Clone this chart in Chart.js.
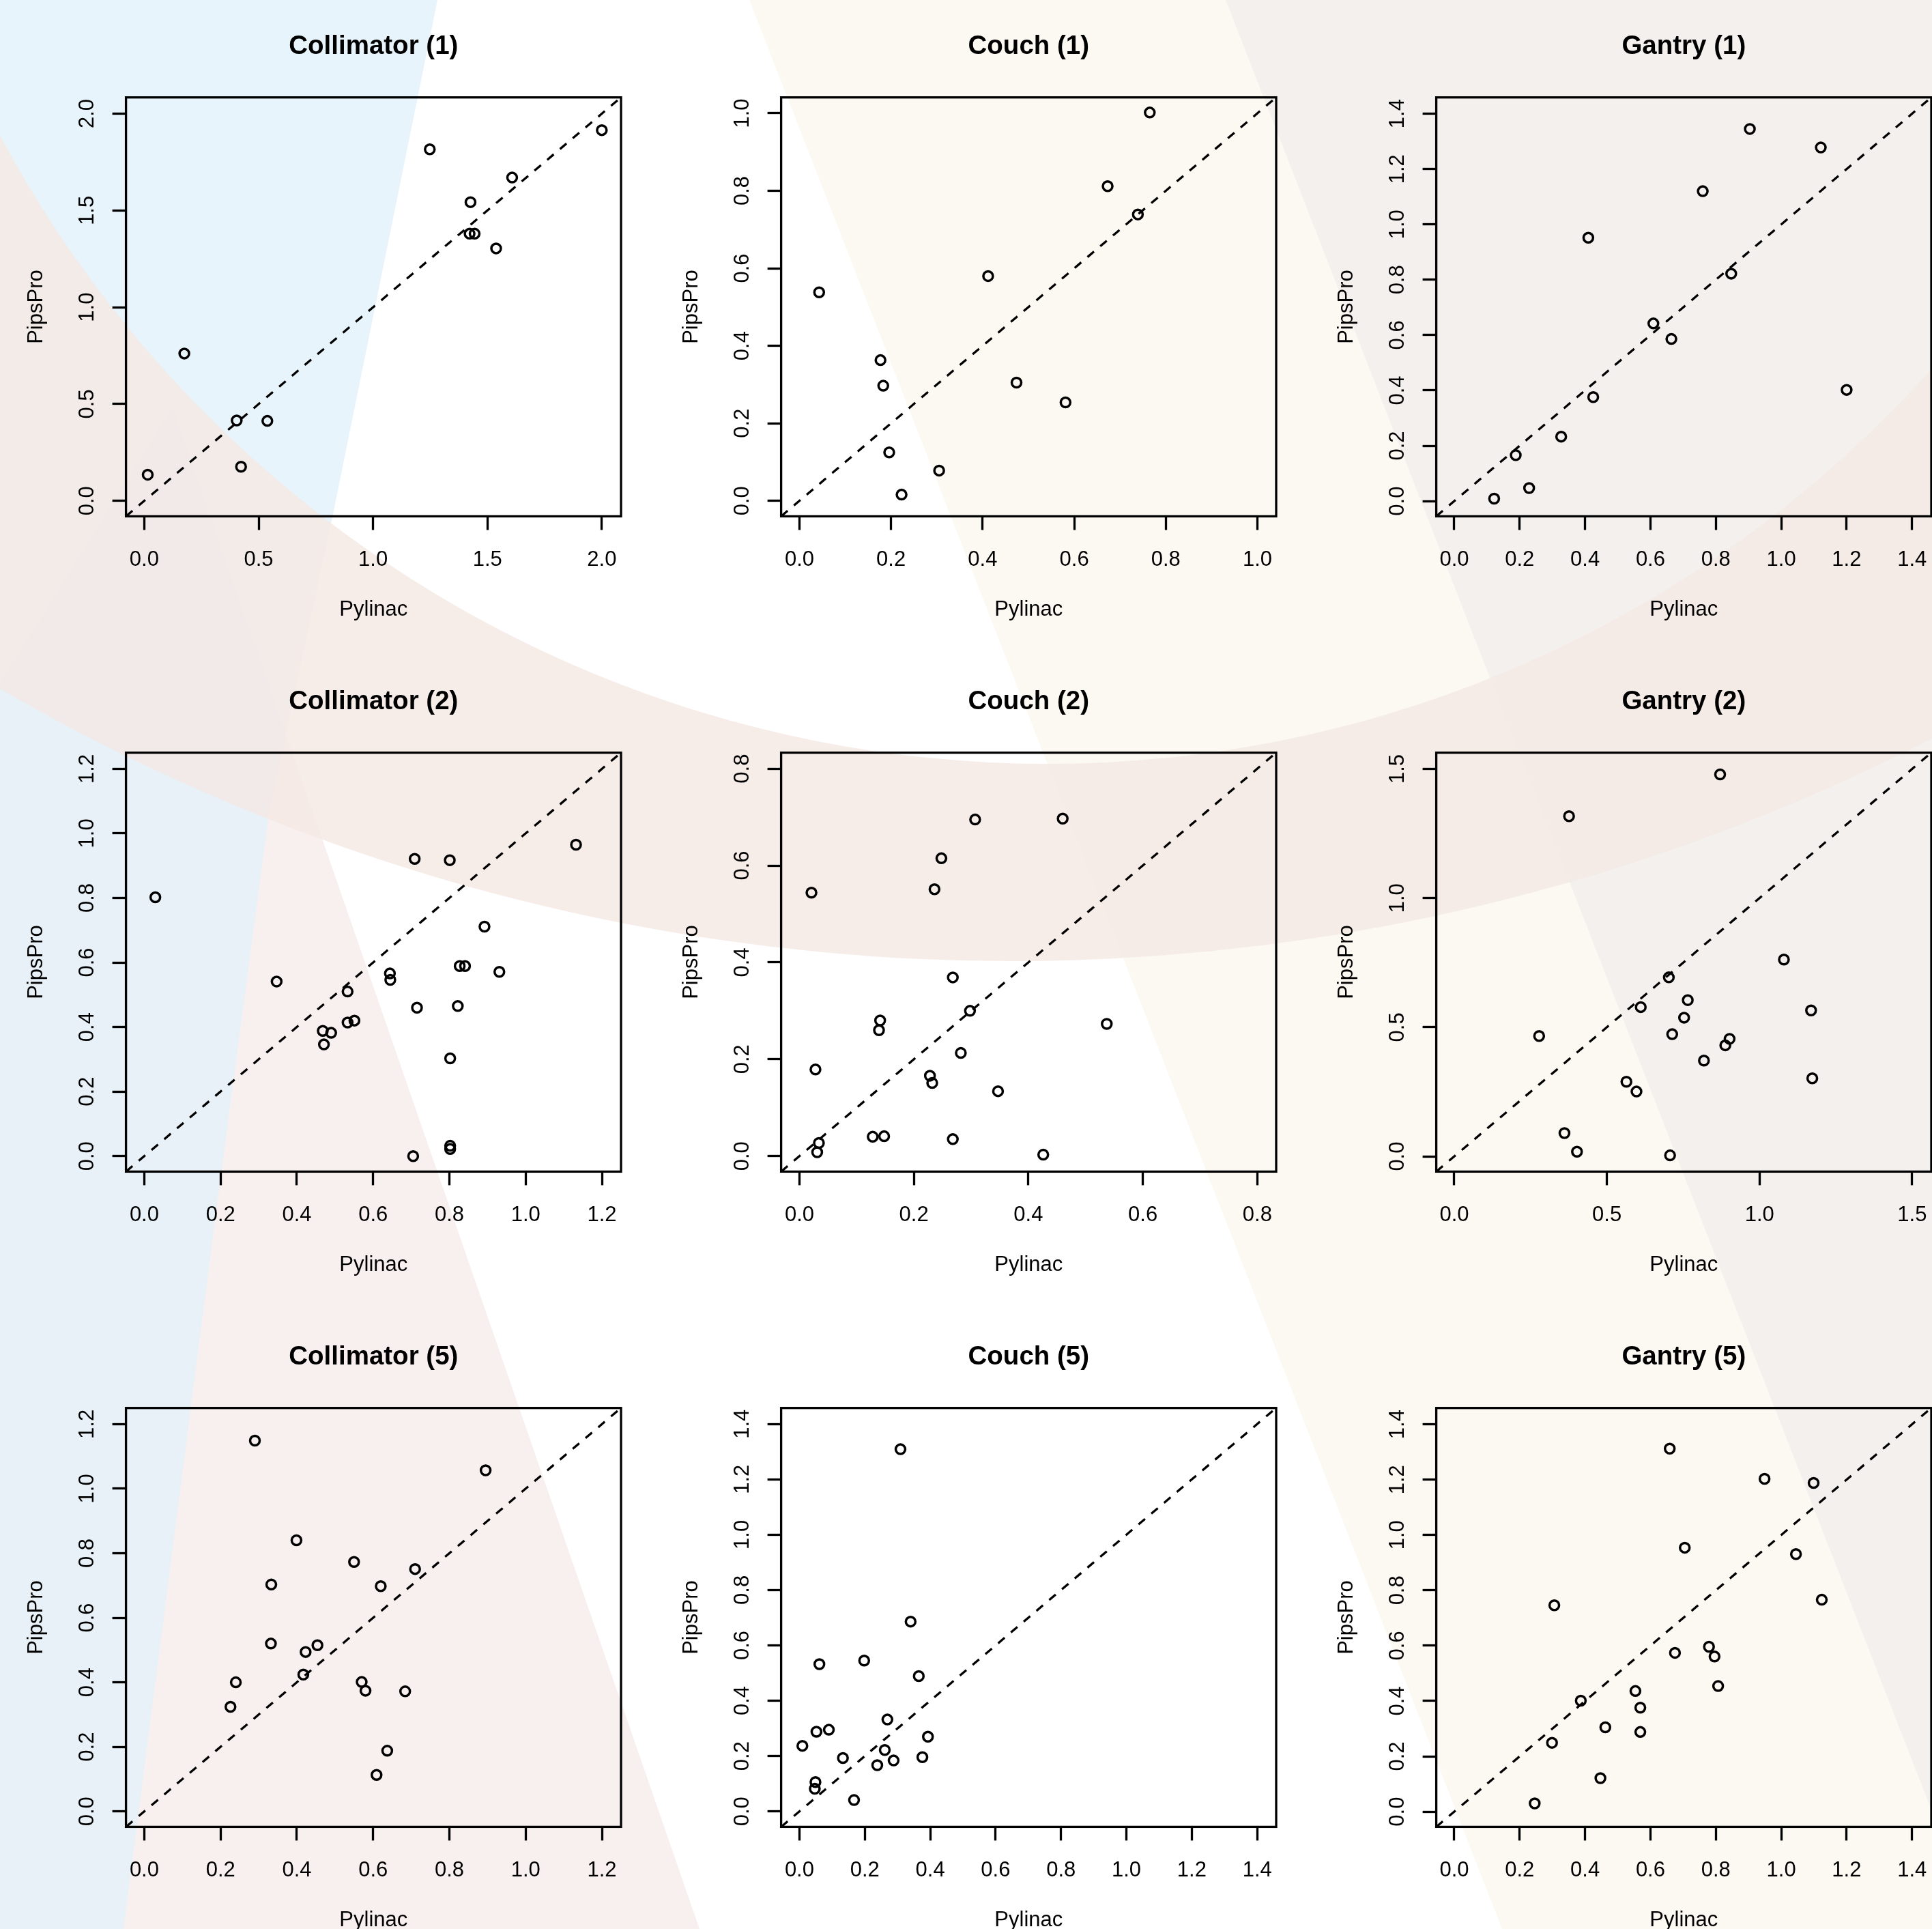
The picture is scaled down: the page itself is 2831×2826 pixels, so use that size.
<!DOCTYPE html>
<html>
<head>
<meta charset="utf-8">
<script src="https://cdn.jsdelivr.net/npm/chart.js@4.4.1/dist/chart.umd.min.js"></script>
<style>
  html, body { margin: 0; padding: 0; background: #fff; }
  body { width: 2831px; height: 2826px; overflow: hidden; position: relative; }
  #bg { position: absolute; left: 0; top: 0; }
  canvas { position: absolute; }
</style>
</head>
<body>
<svg id="bg" width="2831" height="2826" viewBox="0 0 2831 2826">
  <polygon points="1098,0 2831,0 2831,2826 2201,2826" fill="#fcf9f3"/>
  <polygon points="1796,0 2831,0 2831,2654" fill="#f3f0ee"/>
  <polygon points="253,596 1025,2826 0,2826 0,1000" fill="#f8f0ee"/>
  <polygon points="0,0 641,0 487,758 394,1192 314,1796 181,2826 0,2826" fill="rgba(226,241,250,0.78)"/>
  <path fill-rule="evenodd" fill="rgba(244,232,228,0.8)"
    d="M -1470,-1544 a 2952,2952 0 1,0 5904,0 a 2952,2952 0 1,0 -5904,0 Z
       M -205,-621 a 1740,1740 0 1,0 3480,0 a 1740,1740 0 1,0 -3480,0 Z"/>
</svg>

<canvas id="c1" width="960" height="960" style="left:0px;top:0px"></canvas>
<canvas id="c2" width="960" height="960" style="left:960px;top:0px"></canvas>
<canvas id="c3" width="960" height="960" style="left:1920px;top:0px"></canvas>
<canvas id="c4" width="960" height="960" style="left:0px;top:960px"></canvas>
<canvas id="c5" width="960" height="960" style="left:960px;top:960px"></canvas>
<canvas id="c6" width="960" height="960" style="left:1920px;top:960px"></canvas>
<canvas id="c7" width="960" height="960" style="left:0px;top:1920px"></canvas>
<canvas id="c8" width="960" height="960" style="left:960px;top:1920px"></canvas>
<canvas id="c9" width="960" height="960" style="left:1920px;top:1920px"></canvas>

<script>
// Pylinac (x) vs PipsPro (y), one pair of arrays per panel
const collim1X = [2.0, 1.248, 1.608, 1.426, 1.422, 1.444, 1.538, 0.175, 0.404, 0.538, 0.423, 0.015];
const collim1Y = [1.915, 1.816, 1.670, 1.543, 1.380, 1.380, 1.304, 0.761, 0.415, 0.413, 0.176, 0.135];

const couch1X = [0.765, 0.673, 0.739, 0.412, 0.043, 0.177, 0.183, 0.474, 0.581, 0.196, 0.305, 0.223];
const couch1Y = [1.002, 0.812, 0.739, 0.580, 0.538, 0.363, 0.297, 0.305, 0.254, 0.125, 0.078, 0.016];

const gantry1X = [0.904, 1.121, 0.760, 0.410, 0.847, 0.609, 0.664, 1.200, 0.425, 0.327, 0.188, 0.229, 0.122];
const gantry1Y = [1.345, 1.278, 1.120, 0.952, 0.822, 0.642, 0.586, 0.402, 0.376, 0.233, 0.166, 0.047, 0.009];

const collim2X = [1.132, 0.709, 0.801, 0.029, 0.892, 0.827, 0.841, 0.931, 0.644, 0.645, 0.347, 0.533,
                  0.715, 0.822, 0.533, 0.551, 0.468, 0.490, 0.471, 0.802, 0.802, 0.802, 0.705];
const collim2Y = [0.965, 0.921, 0.917, 0.802, 0.711, 0.589, 0.589, 0.571, 0.566, 0.546, 0.541, 0.510,
                  0.460, 0.465, 0.414, 0.420, 0.388, 0.382, 0.346, 0.303, 0.032, 0.022, 0.000];

const couch2X = [0.307, 0.460, 0.248, 0.021, 0.236, 0.268, 0.298, 0.537, 0.141, 0.139, 0.282,
                 0.028, 0.228, 0.232, 0.347, 0.128, 0.148, 0.268, 0.034, 0.031, 0.426];
const couch2Y = [0.695, 0.697, 0.615, 0.544, 0.551, 0.369, 0.300, 0.273, 0.280, 0.260, 0.213,
                 0.179, 0.166, 0.151, 0.134, 0.040, 0.041, 0.035, 0.027, 0.008, 0.003];

const gantry2X = [0.871, 0.376, 1.080, 0.703, 0.765, 0.611, 1.169, 0.753, 0.714, 0.278,
                  0.902, 0.888, 0.818, 0.564, 0.597, 1.173, 0.361, 0.402, 0.707];
const gantry2Y = [1.479, 1.317, 0.762, 0.693, 0.605, 0.578, 0.565, 0.537, 0.473, 0.466,
                  0.455, 0.430, 0.371, 0.289, 0.251, 0.302, 0.090, 0.018, 0.004];

const collim5X = [0.290, 0.895, 0.399, 0.550, 0.710, 0.333, 0.620, 0.332, 0.454,
                  0.423, 0.417, 0.240, 0.570, 0.580, 0.684, 0.226, 0.637, 0.609];
const collim5Y = [1.149, 1.057, 0.840, 0.773, 0.751, 0.703, 0.698, 0.520, 0.515,
                  0.494, 0.424, 0.400, 0.401, 0.374, 0.372, 0.324, 0.188, 0.113];

const couch5X = [0.309, 0.340, 0.198, 0.061, 0.365, 0.269, 0.090, 0.052, 0.393,
                 0.009, 0.261, 0.133, 0.376, 0.288, 0.238, 0.049, 0.047, 0.167];
const couch5Y = [1.309, 0.686, 0.545, 0.532, 0.489, 0.332, 0.295, 0.288, 0.270,
                 0.237, 0.222, 0.193, 0.196, 0.184, 0.167, 0.106, 0.082, 0.041];

const gantry5X = [0.659, 0.949, 1.099, 0.705, 1.045, 0.306, 1.124, 0.779, 0.675, 0.796,
                  0.807, 0.554, 0.387, 0.569, 0.462, 0.569, 0.299, 0.447, 0.246];
const gantry5Y = [1.312, 1.203, 1.188, 0.954, 0.931, 0.746, 0.766, 0.596, 0.574, 0.561,
                  0.454, 0.436, 0.401, 0.376, 0.305, 0.288, 0.249, 0.121, 0.030];

// axis ranges (same for x and y in each panel) and tick labels
const limCollim1 = [-0.08, 2.084];
const limCouch1 = [-0.04, 1.041];
const limGantry1 = [-0.055, 1.459];
const limCollim2 = [-0.048, 1.25];
const limCouch2 = [-0.032, 0.833];
const limGantry2 = [-0.059, 1.563];
const limCollim5 = [-0.048, 1.25];
const limCouch5 = [-0.056, 1.458];
const limGantry5 = [-0.055, 1.459];

const ticks20 = [0, 0.5, 1.0, 1.5, 2.0];
const ticks15 = [0, 0.5, 1.0, 1.5];
const ticks14 = [0, 0.2, 0.4, 0.6, 0.8, 1.0, 1.2, 1.4];
const ticks12 = [0, 0.2, 0.4, 0.6, 0.8, 1.0, 1.2];
const ticks10 = [0, 0.2, 0.4, 0.6, 0.8, 1.0];
const ticks08 = [0, 0.2, 0.4, 0.6, 0.8];

const FONT = "'Liberation Sans', Arial, Helvetica, sans-serif";
const LW = 3.3;

// R style box() around the plot region
const boxPlugin = {
  id: 'rbox',
  afterDatasetsDraw(chart) {
    const a = chart.chartArea;
    const ctx = chart.ctx;
    ctx.save();
    ctx.strokeStyle = '#000';
    ctx.lineWidth = LW;
    ctx.strokeRect(a.left, a.top, a.right - a.left, a.bottom - a.top);
    ctx.restore();
  }
};

function makePanel(id, title, xs, ys, lim, tickVals) {
  var pts = xs.map(function (x, i) { return {x: x, y: ys[i]}; });
  var fixTicks = function (scale) {
    scale.ticks = tickVals.map(function (v) { return {value: v}; });
  };
  new Chart(document.getElementById(id), {
    type: 'scatter',
    data: {
      datasets: [{
        xAxisID: 'x', yAxisID: 'y',
        data: pts,
        pointStyle: 'circle',
        pointRadius: 7,
        pointHoverRadius: 7,
        pointBorderWidth: 3.5,
        pointBorderColor: '#000',
        pointBackgroundColor: 'rgba(0,0,0,0)'
      }, {
        type: 'line',
        xAxisID: 'x', yAxisID: 'y',
        data: [{x: lim[0], y: lim[0]}, {x: lim[1], y: lim[1]}],
        borderColor: '#000',
        borderWidth: LW,
        borderDash: [12.5, 12],
        pointRadius: 0,
        fill: false
      }]
    },
    options: {
      responsive: false,
      animation: false,
      devicePixelRatio: 1,
      layout: {padding: {top: 0, right: 50, bottom: 0, left: 0}},
      plugins: {
        legend: {display: false},
        tooltip: {enabled: false},
        title: {display: false}
      },
      scales: {
        x: {
          type: 'linear', position: 'bottom', bounds: 'data',
          min: lim[0], max: lim[1],
          afterBuildTicks: fixTicks,
          afterFit: function (s) { s.height = 203.6; },
          ticks: {
            autoSkip: false, minRotation: 0, maxRotation: 0, padding: 25,
            color: '#000', font: {family: FONT, size: 31, lineHeight: 1.2},
            callback: function (v) { return Number(v).toFixed(1); }
          },
          grid: {display: true, drawOnChartArea: false, drawTicks: true, tickLength: 20, tickWidth: LW, tickColor: '#000'},
          border: {display: false},
          title: {
            display: true, text: 'Pylinac', color: '#000',
            font: {family: FONT, size: 31, lineHeight: 1.2},
            padding: {top: 0, bottom: 48.4}
          }
        },
        y: {
          type: 'linear', position: 'left', bounds: 'data',
          min: lim[0], max: lim[1],
          afterBuildTicks: fixTicks,
          afterFit: function (s) { s.width = 184.6; },
          ticks: {
            autoSkip: false, minRotation: 90, maxRotation: 90, crossAlign: 'center', padding: 14.4,
            color: '#000', font: {family: FONT, size: 31, lineHeight: 1.2},
            callback: function (v) { return Number(v).toFixed(1); }
          },
          grid: {display: true, drawOnChartArea: false, drawTicks: true, tickLength: 20, tickWidth: LW, tickColor: '#000'},
          border: {display: false},
          title: {
            display: true, text: 'PipsPro', color: '#000',
            font: {family: FONT, size: 31, lineHeight: 1.2},
            padding: {top: 34.4, bottom: 0}
          }
        },
        // empty top axis only carries the panel title, centred over the plot box
        top: {
          type: 'linear', position: 'top', min: 0, max: 1,
          ticks: {display: false},
          grid: {display: false},
          border: {display: false},
          afterFit: function (s) { s.height = 142.7; },
          title: {
            display: true, text: title, color: '#000',
            font: {family: FONT, size: 38.5, weight: 'bold', lineHeight: 1.2},
            padding: {top: 45, bottom: 0}
          }
        }
      }
    },
    plugins: [boxPlugin]
  });
}

makePanel('c1', 'Collimator (1)', collim1X, collim1Y, limCollim1, ticks20);
makePanel('c2', 'Couch (1)', couch1X, couch1Y, limCouch1, ticks10);
makePanel('c3', 'Gantry (1)', gantry1X, gantry1Y, limGantry1, ticks14);
makePanel('c4', 'Collimator (2)', collim2X, collim2Y, limCollim2, ticks12);
makePanel('c5', 'Couch (2)', couch2X, couch2Y, limCouch2, ticks08);
makePanel('c6', 'Gantry (2)', gantry2X, gantry2Y, limGantry2, ticks15);
makePanel('c7', 'Collimator (5)', collim5X, collim5Y, limCollim5, ticks12);
makePanel('c8', 'Couch (5)', couch5X, couch5Y, limCouch5, ticks14);
makePanel('c9', 'Gantry (5)', gantry5X, gantry5Y, limGantry5, ticks14);
</script>
</body>
</html>
